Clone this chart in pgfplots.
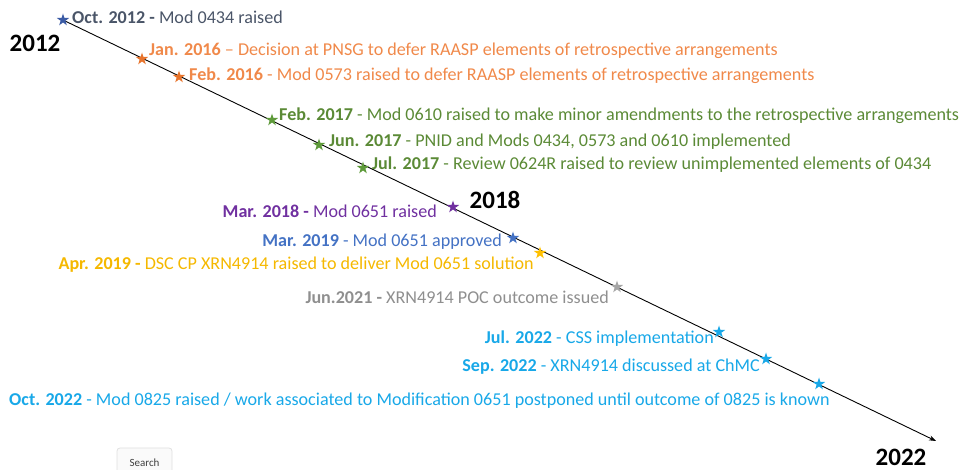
\documentclass[border=0pt]{standalone}
\usepackage{pgfplots}
\pgfplotsset{compat=1.18}
\usetikzlibrary{arrows.meta}
\usepackage{fontspec}
\setmainfont{Carlito}
\definecolor{cNavy}{HTML}{3B5BA5}
\definecolor{tNavy}{HTML}{4A5568}
\definecolor{cOrange}{HTML}{E8742C}
\definecolor{tOrange}{HTML}{F0894A}
\definecolor{cGreen}{HTML}{5E9A3A}
\definecolor{tGreen}{HTML}{5B8A36}
\definecolor{cPurple}{HTML}{7030A0}
\definecolor{cBlue}{HTML}{4472C4}
\definecolor{cGold}{HTML}{FFC000}
\definecolor{tGold}{HTML}{F5B800}
\definecolor{cGrey}{HTML}{A6A6A6}
\definecolor{tGrey}{HTML}{8F8F8F}
\definecolor{cCyan}{HTML}{18A8E8}
\pgfdeclareplotmark{fstar}{%
  \pgfpathmoveto{\pgfqpoint{0pt}{\pgfplotmarksize}}%
  \pgfpathlineto{\pgfqpoint{0.2245\pgfplotmarksize}{0.309\pgfplotmarksize}}%
  \pgfpathlineto{\pgfqpoint{0.951\pgfplotmarksize}{0.309\pgfplotmarksize}}%
  \pgfpathlineto{\pgfqpoint{0.363\pgfplotmarksize}{-0.118\pgfplotmarksize}}%
  \pgfpathlineto{\pgfqpoint{0.588\pgfplotmarksize}{-0.809\pgfplotmarksize}}%
  \pgfpathlineto{\pgfqpoint{0pt}{-0.382\pgfplotmarksize}}%
  \pgfpathlineto{\pgfqpoint{-0.588\pgfplotmarksize}{-0.809\pgfplotmarksize}}%
  \pgfpathlineto{\pgfqpoint{-0.363\pgfplotmarksize}{-0.118\pgfplotmarksize}}%
  \pgfpathlineto{\pgfqpoint{-0.951\pgfplotmarksize}{0.309\pgfplotmarksize}}%
  \pgfpathlineto{\pgfqpoint{-0.2245\pgfplotmarksize}{0.309\pgfplotmarksize}}%
  \pgfpathclose
  \pgfusepathqfill
}
\tikzset{
  lbl/.style={font=\fontsize{18.1}{21}\selectfont, inner sep=0pt},
  yr/.style={font=\fontsize{25}{29}\selectfont\bfseries, inner sep=0pt, text=black},
}
\pgfplotsset{evstar/.style={only marks, mark=fstar, mark size=6.5pt}}
\newcommand{\lab}[2]{\textbf{#1} - #2}
\newcommand{\labb}[2]{\textbf{#1 -} #2}
\begin{document}
\begin{tikzpicture}
\begin{axis}[
  width=962pt, height=470pt, scale only axis,
  xmin=0, xmax=962, ymin=0, ymax=470, y dir=reverse,
  hide axis, clip=false,
]
% timeline
\addplot[black, line width=0.9pt, -{Stealth[length=7pt,width=5pt]}] coordinates {(63,20) (936,441)};
% stars
\addplot[evstar, color=cNavy] coordinates {(63,20)};
\addplot[evstar, color=cOrange] coordinates {(142,59) (179,77)};
\addplot[evstar, color=cGreen] coordinates {(272,120) (319,145) (363,168)};
\addplot[evstar, color=cPurple] coordinates {(453,207)};
\addplot[evstar, color=cBlue] coordinates {(513,238)};
\addplot[evstar, color=cGold] coordinates {(540,253)};
\addplot[evstar, color=cGrey] coordinates {(617,287)};
\addplot[evstar, color=cCyan] coordinates {(719,332) (766,359) (819,384)};
% year labels
\node[yr] at (axis cs:35,43) {2012};
\node[yr] at (axis cs:495,200) {2018};
\node[yr] at (axis cs:901,457) {2022};
% event labels
\node[lbl, text=tNavy, anchor=base west] at (axis cs:72,24) {\labb{Oct. 2012}{Mod 0434 raised}};
\node[lbl, text=tOrange, anchor=base west] at (axis cs:149,56) {\textbf{Jan. 2016} -- Decision at PNSG to defer RAASP elements of retrospective arrangements};
\node[lbl, text=tOrange, anchor=base west] at (axis cs:189,81) {\lab{Feb. 2016}{Mod 0573 raised to defer RAASP elements of retrospective arrangements}};
\node[lbl, text=tGreen, anchor=base west] at (axis cs:279,121) {\lab{Feb. 2017}{Mod 0610 raised to make minor amendments to the retrospective arrangements}};
\node[lbl, text=tGreen, anchor=base west] at (axis cs:329,147) {\lab{Jun. 2017}{PNID and Mods 0434, 0573 and 0610 implemented}};
\node[lbl, text=tGreen, anchor=base west] at (axis cs:372,170) {\lab{Jul. 2017}{Review 0624R raised to review unimplemented elements of 0434}};
\node[lbl, text=cPurple, anchor=base east] at (axis cs:437,218) {\labb{Mar. 2018}{Mod 0651 raised}};
\node[lbl, text=cBlue, anchor=base east] at (axis cs:502,247) {\lab{Mar. 2019}{Mod 0651 approved}};
\node[lbl, text=tGold, anchor=base east] at (axis cs:534,270) {\labb{Apr. 2019}{DSC CP XRN4914 raised to deliver Mod 0651 solution}};
\node[lbl, text=tGrey, anchor=base east] at (axis cs:609,304) {\labb{Jun.2021}{XRN4914 POC outcome issued}};
\node[lbl, text=cCyan, anchor=base east] at (axis cs:714,344) {\lab{Jul. 2022}{CSS implementation}};
\node[lbl, text=cCyan, anchor=base east] at (axis cs:760,372) {\lab{Sep. 2022}{XRN4914 discussed at ChMC}};
\node[lbl, text=cCyan, anchor=base west] at (axis cs:9,406) {\lab{Oct. 2022}{Mod 0825 raised / work associated to Modification 0651 postponed until outcome of 0825 is known}};
% search button
\draw[draw=black!12, fill=black!2, rounded corners=3pt, line width=0.8pt] (axis cs:117,448) rectangle (axis cs:172,475);
\node[font=\fontsize{11}{13}\selectfont, text=black!75, inner sep=0pt] at (axis cs:144.5,463) {Search};
\end{axis}
\pgfresetboundingbox
\path (current axis.south west) rectangle (current axis.north east);
\end{tikzpicture}
\end{document}
